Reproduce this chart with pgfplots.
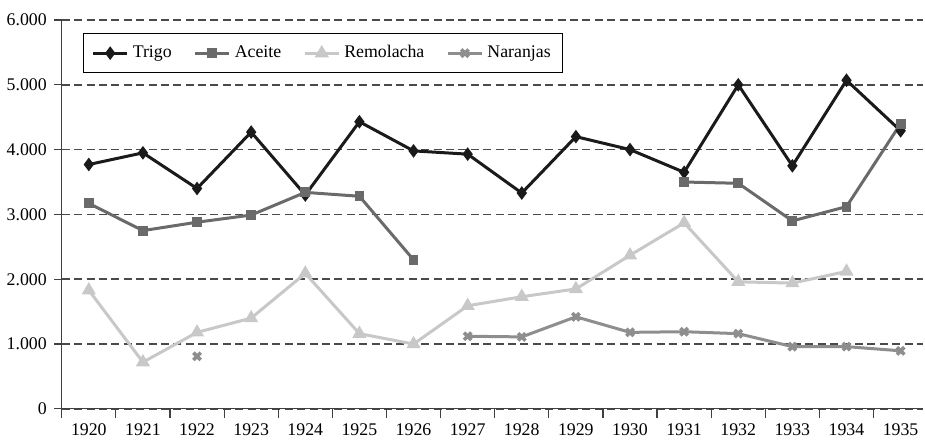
\documentclass[border=0pt]{standalone}
\usepackage{fontspec}
\setmainfont{Liberation Serif}
\usepackage{pgfplots}
\pgfplotsset{compat=1.18}
\definecolor{cTrigo}{HTML}{1A1A1A}
\definecolor{cAceite}{HTML}{6A6A6A}
\definecolor{cRemo}{HTML}{C8C8C8}
\definecolor{cNar}{HTML}{8E8E8E}
\definecolor{cGrid}{HTML}{4A4A4A}
\begin{document}
\begin{tikzpicture}
\begin{axis}[
  name=ax,
  scale only axis,
  width=430.7pt, height=194.5pt,
  xmin=1919.5, xmax=1935.41,
  ymin=0, ymax=6000,
  axis lines=left,
  axis line style={-, line width=0.6pt, black!75},
  unbounded coords=jump,
  xtick={1920,...,1935},
  major x tick style={draw=none},
  minor xtick={1919.5,1920.5,...,1934.5},
  minor x tick style={line width=0.6pt, black!75},
  minor tick length=4.5pt,
  ytick={0,1000,...,6000},
  major tick length=4pt,
  tick align=outside,
  ytick style={line width=0.6pt, black!75},
  ymajorgrids,
  grid style={dashed, dash pattern=on 4pt off 2.2pt, line width=0.85pt, cGrid},
  scaled y ticks=false,
  yticklabel style={/pgf/number format/.cd, fixed, 1000 sep={.}, assume math mode=true},
  xticklabel style={/pgf/number format/.cd, 1000 sep={}, assume math mode=true},
  tick label style={font=\fontsize{8.9}{10}\selectfont},
  legend style={at={(0,1)}, anchor=north west, xshift=10.7pt, yshift=-6.5pt,
    font=\fontsize{8.9}{10}\selectfont, draw=black, line width=0.5pt,
    inner xsep=4pt, inner ysep=4pt},
  legend columns=4,
  legend cell align=left,
  /tikz/every even column/.append style={column sep=9pt},
  clip=false,
]
\addplot[cTrigo, line width=1.5pt, mark=diamond*, mark size=2.2pt] coordinates {
(1920,3770) (1921,3950) (1922,3400) (1923,4270) (1924,3300) (1925,4430) (1926,3980) (1927,3930)
(1928,3330) (1929,4200) (1930,4000) (1931,3650) (1932,5000) (1933,3750) (1934,5070) (1935,4290)};
\addlegendentry{Trigo}
\addplot[cAceite, line width=1.5pt, mark=square*, mark size=1.7pt] coordinates {
(1920,3170) (1921,2750) (1922,2880) (1923,2990) (1924,3340) (1925,3280) (1926,2300) (1927,nan)
(1928,nan) (1929,nan) (1930,nan) (1931,3500) (1932,3480) (1933,2900) (1934,3120) (1935,4400)};
\addlegendentry{Aceite}
\addplot[cRemo, line width=1.5pt, mark=triangle*, mark size=2.6pt] coordinates {
(1920,1830) (1921,720) (1922,1180) (1923,1400) (1924,2090) (1925,1160) (1926,1000) (1927,1590)
(1928,1730) (1929,1850) (1930,2370) (1931,2870) (1932,1960) (1933,1940) (1934,2120) (1935,nan)};
\addlegendentry{Remolacha}
\addplot[cNar, line width=1.5pt, mark=x, mark size=2.6pt, mark options={line width=1.8pt}] coordinates {
(1920,nan) (1921,nan) (1922,810) (1923,nan) (1924,nan) (1925,nan) (1926,nan) (1927,1120)
(1928,1110) (1929,1420) (1930,1180) (1931,1190) (1932,1160) (1933,960) (1934,960) (1935,895)};
\addlegendentry{Naranjas}
\end{axis}
\path ([yshift=10pt]ax.north west);
\end{tikzpicture}
\end{document}
